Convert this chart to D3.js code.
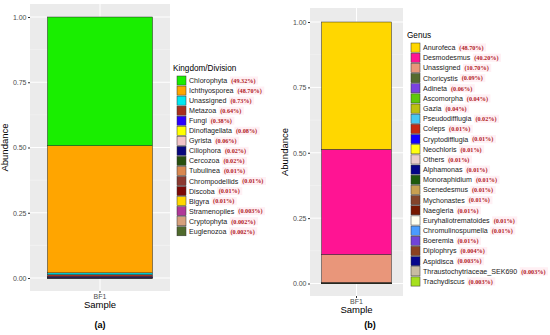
<!DOCTYPE html>
<html><head><meta charset="utf-8">
<script src="https://cdn.jsdelivr.net/npm/d3@7"></script>
<style>body{margin:0;background:#fff}svg{display:block}</style>
</head><body>
<script>
// ---------- DATA ----------
const sampleNames = ["BF1"];
const yTicks = [0, 0.25, 0.5, 0.75, 1.0];

const kingdomNames = ["Chlorophyta","Ichthyosporea","Unassigned","Metazoa","Fungi","Dinoflagellata","Gyrista","Ciliophora","Cercozoa","Tubulinea","Chrompodellids","Discoba","Bigyra","Stramenopiles","Cryptophyta","Euglenozoa"];
const kingdomValues = [49.32,48.70,0.73,0.64,0.38,0.08,0.06,0.02,0.02,0.01,0.01,0.01,0.01,0.003,0.002,0.002];
const kingdomLabels = ["(49.32%)","(48.70%)","(0.73%)","(0.64%)","(0.38%)","(0.08%)","(0.06%)","(0.02%)","(0.02%)","(0.01%)","(0.01%)","(0.01%)","(0.01%)","(0.003%)","(0.002%)","(0.002%)"];
const kingdomColors = ["#19ee00","#ffa500","#00e8f0","#a8301e","#2a00ff","#ffff00","#f2c4c8","#08087e","#28500e","#d98850","#8c3a30","#7c0a06","#ffd700","#b03898","#d6a07c","#4f6a2c"];

const genusNames = ["Anurofeca","Desmodesmus","Unassigned","Choricystis","Adineta","Ascomorpha","Gazia","Pseudodifflugia","Coleps","Cryptodifflugia","Neochloris","Others","Alphamonas","Monoraphidium","Scenedesmus","Mychonastes","Naegleria","Euryhaliotrematoides","Chromulinospumella","Boeremia","Diplophrys","Aspidisca","Thraustochytriaceae_SEK690","Trachydiscus"];
const genusValues = [48.70,40.20,10.70,0.09,0.06,0.04,0.04,0.02,0.01,0.01,0.01,0.01,0.01,0.01,0.01,0.01,0.01,0.01,0.01,0.01,0.004,0.003,0.003,0.003];
const genusLabels = ["(48.70%)","(40.20%)","(10.70%)","(0.09%)","(0.06%)","(0.04%)","(0.04%)","(0.02%)","(0.01%)","(0.01%)","(0.01%)","(0.01%)","(0.01%)","(0.01%)","(0.01%)","(0.01%)","(0.01%)","(0.01%)","(0.01%)","(0.01%)","(0.004%)","(0.003%)","(0.003%)","(0.003%)"];
const genusColors = ["#ffd700","#ff1493","#e9967a","#556b2f","#7a42e0","#5ec80a","#bcc010","#48c8f0","#c82a10","#1400ff","#ffff10","#e8cccc","#040488","#1e5a0c","#c8a050","#84442a","#761800","#fffff0","#4a9cff","#7044d8","#8b4220","#06068c","#c8bca2","#a6e01e"];

// ---------- DRAW ----------
const W = 550, H = 335;
const svg = d3.select("body").append("svg").attr("width", W).attr("height", H)
  .style("font-family", "'Liberation Sans', Arial, sans-serif");

function panel(cfg) {
  const g = svg.append("g");
  const y = d3.scaleLinear().domain([0, 1]).range([cfg.y0, cfg.y1]);
  const x = d3.scaleBand().domain(sampleNames).range([cfg.px0, cfg.px1]).paddingInner(0.25).paddingOuter(cfg.pad);
  g.append("rect").attr("x", cfg.px0).attr("y", cfg.py0).attr("width", cfg.px1 - cfg.px0)
    .attr("height", cfg.py1 - cfg.py0).attr("fill", "#ebebeb");
  const minor = [0.125, 0.375, 0.625, 0.875];
  g.selectAll(".mg").data(minor).enter().append("line")
    .attr("x1", cfg.px0).attr("x2", cfg.px1).attr("y1", d => y(d)).attr("y2", d => y(d))
    .attr("stroke", "#f7f7f7").attr("stroke-width", 0.5);
  g.selectAll(".Mg").data(yTicks).enter().append("line")
    .attr("x1", cfg.px0).attr("x2", cfg.px1).attr("y1", d => y(d)).attr("y2", d => y(d))
    .attr("stroke", "#fff").attr("stroke-width", 1);
  g.selectAll(".vg").data(sampleNames).enter().append("line")
    .attr("x1", d => x(d) + x.bandwidth() / 2).attr("x2", d => x(d) + x.bandwidth() / 2)
    .attr("y1", cfg.py0).attr("y2", cfg.py1).attr("stroke", "#fff").attr("stroke-width", 1);

  const total = d3.sum(cfg.values);
  const rows = cfg.names.map((n, i) => ({ name: n, v: cfg.values[i] / total, c: cfg.colors[i] }));
  let acc = 0;
  const segs = rows.slice().reverse().map(r => { const s = { ...r, lo: acc, hi: acc + r.v }; acc += r.v; return s; });
  g.selectAll(".seg").data(segs).enter().append("rect")
    .attr("x", x("BF1")).attr("width", x.bandwidth())
    .attr("y", d => y(d.hi)).attr("height", d => Math.max(0, y(d.lo) - y(d.hi)))
    .attr("fill", d => d.c).attr("stroke", "#222").attr("stroke-width", 0.5);

  const ya = d3.axisLeft(y).tickValues(yTicks).tickFormat(d3.format(".2f")).tickSize(2).tickPadding(1.5);
  const yg = g.append("g").attr("transform", `translate(${cfg.px0},0)`).call(ya);
  yg.select(".domain").remove();
  yg.selectAll("line").attr("stroke", "#333");
  yg.selectAll("text").attr("fill", "#4d4d4d").style("font-size", "7px");
  const xa = d3.axisBottom(x).tickSize(2).tickPadding(1.5);
  const xg = g.append("g").attr("transform", `translate(0,${cfg.py1})`).call(xa);
  xg.select(".domain").remove();
  xg.selectAll("line").attr("stroke", "#333");
  xg.selectAll("text").attr("fill", "#4d4d4d").style("font-size", "7px");

  g.append("text").attr("x", (cfg.px0 + cfg.px1) / 2).attr("y", cfg.py1 + 17).attr("text-anchor", "middle")
    .style("font-size", "9.5px").text("Sample");
  g.append("text").attr("transform", `translate(${cfg.px0 - 22},${(cfg.py0 + cfg.py1) / 2}) rotate(-90)`)
    .attr("text-anchor", "middle").style("font-size", "9.5px").text("Abundance");

  const lg = g.append("g");
  lg.append("text").attr("x", cfg.lx - 4).attr("y", cfg.ly - 5).style("font-size", "8.2px").text(cfg.title);
  rows.forEach((r, i) => {
    const yy = cfg.ly + i * cfg.step;
    lg.append("rect").attr("x", cfg.lx).attr("y", yy + 0.5).attr("width", 9).attr("height", cfg.step - 1)
      .attr("fill", r.c).attr("stroke", "#333").attr("stroke-width", 0.5);
    const t = lg.append("text").attr("x", cfg.lx + 12).attr("y", yy + cfg.step / 2 + 2.5)
      .style("font-size", "7.1px").attr("fill", "#222").text(r.name);
    const tw = t.node().getComputedTextLength();
    const px = cfg.lx + 12 + tw + 4;
    const bg = lg.append("rect").attr("fill", "#fff0f4");
    const pt = lg.append("text").attr("x", px).attr("y", yy + cfg.step / 2 + 2.3)
      .style("font-family", "'Liberation Serif', 'Times New Roman', serif").style("font-weight", "bold")
      .style("font-size", "6.2px").attr("fill", "#b0201e").text(cfg.labels[i]);
    const pw = pt.node().getComputedTextLength();
    bg.attr("x", px - 1.5).attr("y", yy + 1).attr("width", pw + 4).attr("height", cfg.step - 2);
  });

  svg.append("text").attr("x", cfg.tagX).attr("y", 328).attr("text-anchor", "middle")
    .style("font-size", "9px").style("font-weight", "bold").text(cfg.tag);
}

panel({ px0: 30, px1: 170, py0: 4, py1: 291, y0: 278, y1: 17, pad: 0.12,
  names: kingdomNames, values: kingdomValues, colors: kingdomColors, labels: kingdomLabels,
  title: "Kingdom/Division", lx: 177, ly: 75.5, step: 10.05, tag: "(a)", tagX: 100 });

panel({ px0: 310, px1: 403, py0: 8, py1: 296, y0: 283.5, y1: 22, pad: 0.12,
  names: genusNames, values: genusValues, colors: genusColors, labels: genusLabels,
  title: "Genus", lx: 411, ly: 42.5, step: 10.17, tag: "(b)", tagX: 370 });
</script>
</body></html>
